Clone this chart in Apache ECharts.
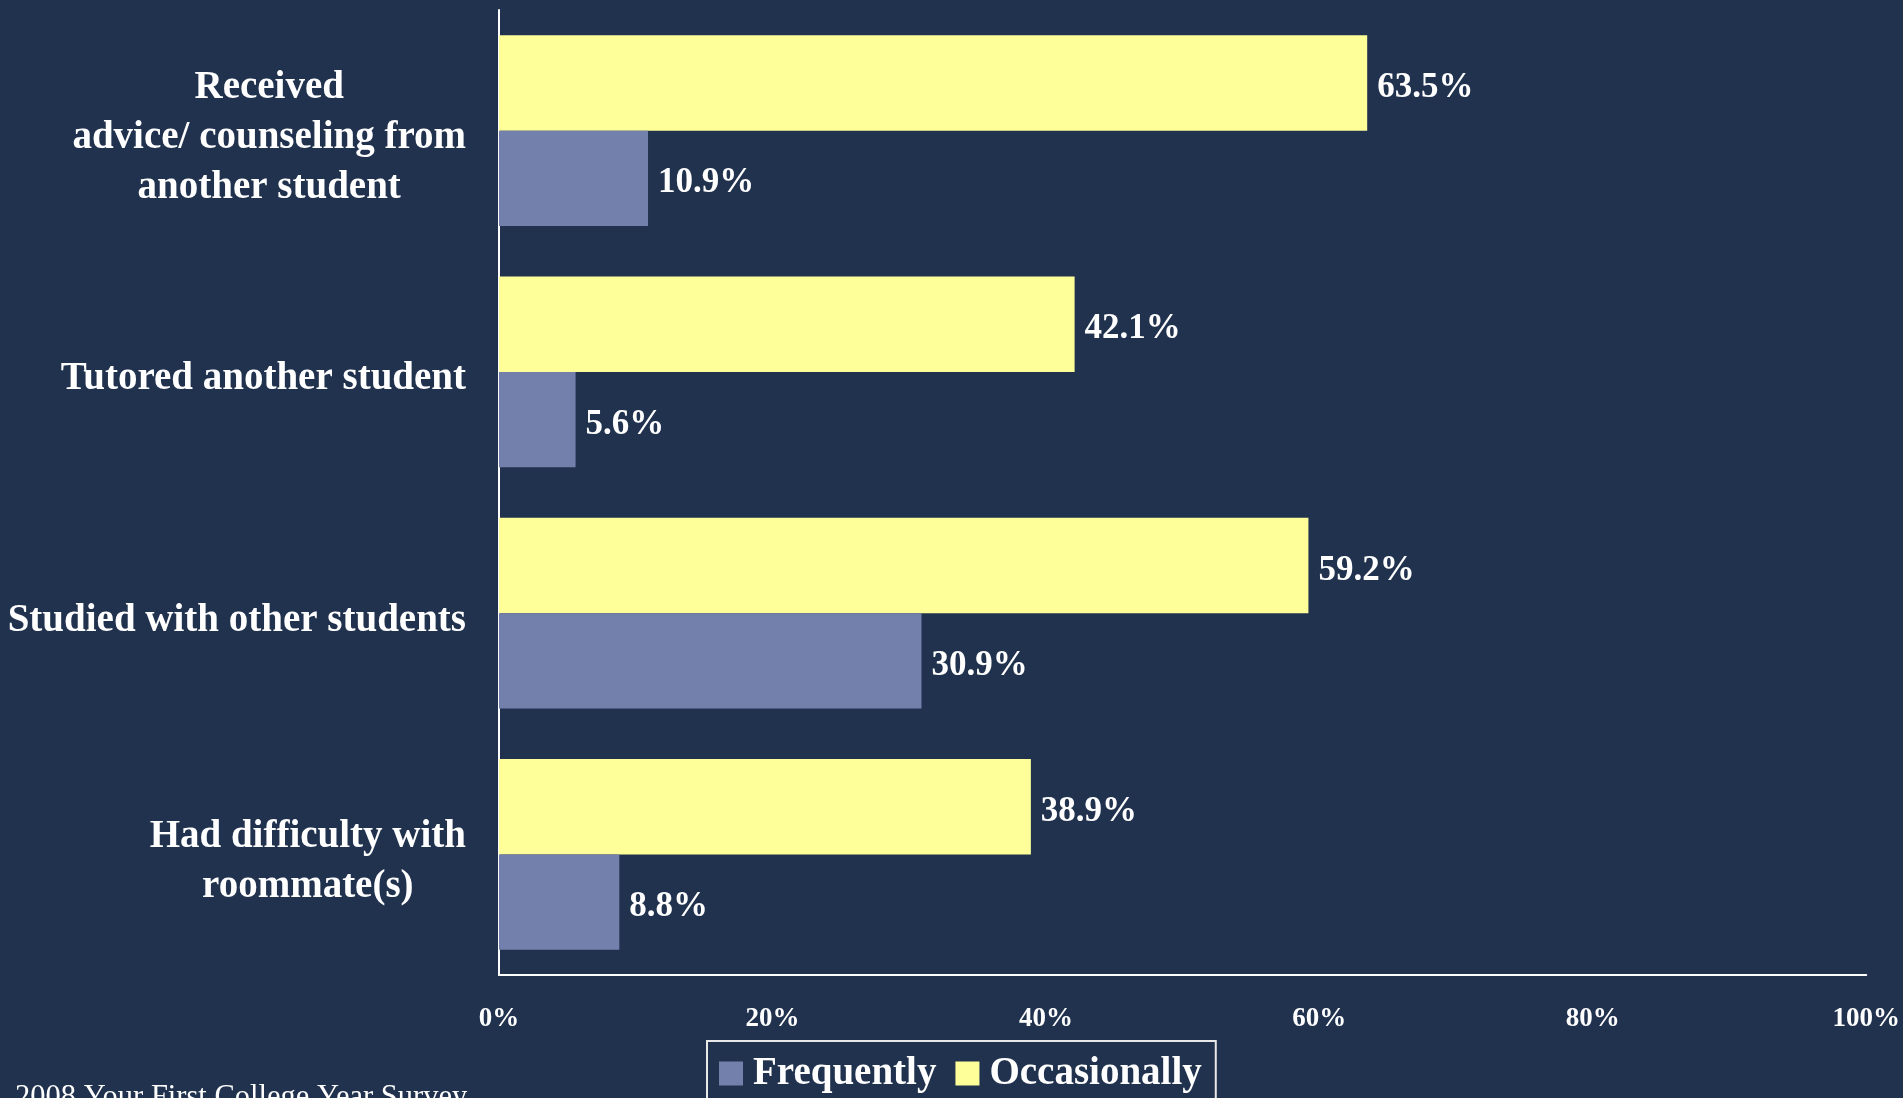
<!DOCTYPE html>
<html>
<head>
<meta charset="utf-8">
<script src="https://cdn.jsdelivr.net/npm/echarts@6/dist/echarts.min.js"></script>
<style>
html,body{margin:0;padding:0;background:#21324F;}
#c{width:1903px;height:1098px;}
</style>
</head>
<body>
<div id="c"></div>
<script>
const categories = [
  "Received\nadvice/ counseling from\nanother student",
  "Tutored another student",
  "Studied with other students",
  "Had difficulty with\nroommate(s)"
];
const frequently = [10.9, 5.6, 30.9, 8.8];
const occasionally = [63.5, 42.1, 59.2, 38.9];
const seriesNames = ["Frequently", "Occasionally"];
const xTicks = [0, 20, 40, 60, 80, 100];
const sourceNote = "2008 Your First College Year Survey";

const FONT = '"Liberation Serif", "DejaVu Serif", serif';
const chart = echarts.init(document.getElementById('c'));
const labelStyle = {
  show: true, position: 'right', distance: 10, offset: [0, 5],
  color: '#ffffff', fontFamily: FONT, fontWeight: 'bold', fontSize: 35,
  formatter: p => p.value.toFixed(1) + '%'
};
chart.setOption({
  backgroundColor: '#21324F',
  animation: false,
  grid: { left: 499, right: 35, top: 10, bottom: 123 },
  legend: {
    data: seriesNames,
    left: 707, top: 1041,
    padding: [13, 14, 13, 12],
    itemWidth: 24, itemHeight: 24, itemGap: 19,
    icon: 'rect',
    borderColor: '#e8e8e8', borderWidth: 2,
    textStyle: { color: '#ffffff', fontFamily: FONT, fontWeight: 'bold', fontSize: 39, padding: [0,0,0,5] }
  },
  xAxis: {
    type: 'value', min: 0, max: 100, interval: 20,
    axisLine: { show: true, lineStyle: { color: '#ffffff', width: 2 } },
    axisTick: { show: false },
    splitLine: { show: false },
    axisLabel: { color: '#ffffff', fontFamily: FONT, fontWeight: 'bold', fontSize: 27, margin: 31,
      formatter: v => xTicks.includes(v) ? v + '%' : '' }
  },
  yAxis: {
    type: 'category', data: categories, inverse: true,
    axisLine: { show: true, lineStyle: { color: '#ffffff', width: 2 } },
    axisTick: { show: false },
    axisLabel: {
      margin: 33, align: 'right', padding: [15, 0, 0, 0],
      formatter: v => v.split('\n').map(l => '{c|' + l + '}').join('\n'),
      rich: { c: { align: 'center', color: '#ffffff', fontFamily: FONT, fontWeight: 'bold', fontSize: 39, lineHeight: 50 } }
    }
  },
  series: [
    { name: seriesNames[1], type: 'bar', data: occasionally, barGap: '0%', barCategoryGap: '21%',
      itemStyle: { color: '#FFFF99' }, label: labelStyle },
    { name: seriesNames[0], type: 'bar', data: frequently, barGap: '0%', barCategoryGap: '21%',
      itemStyle: { color: '#7480AC' }, label: labelStyle }
  ],
  graphic: [
    { type: 'text', left: 15, top: 1082,
      style: { text: sourceNote, fill: '#ffffff', font: 'normal 30.5px ' + FONT } }
  ]
});
</script>
</body>
</html>
